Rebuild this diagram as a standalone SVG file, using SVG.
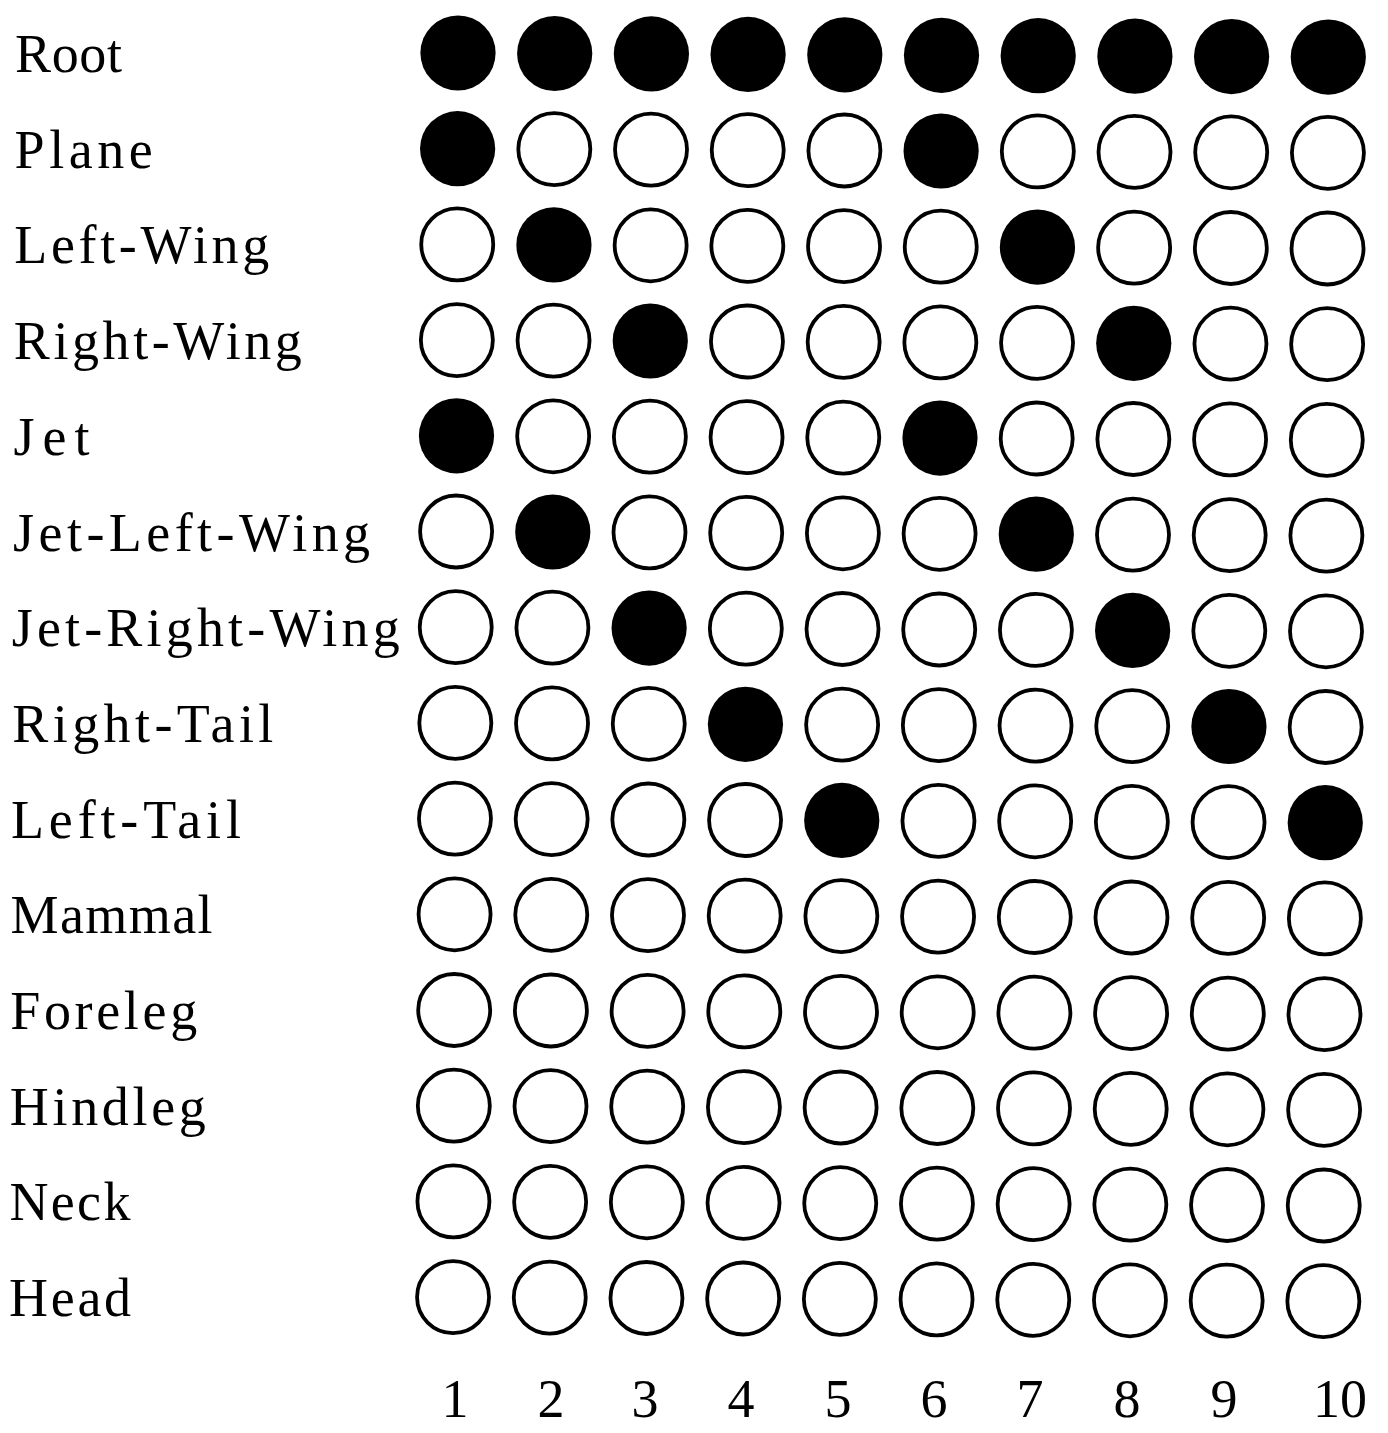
<svg xmlns="http://www.w3.org/2000/svg" width="1388" height="1433" viewBox="0 0 1388 1433">
<style>
.on{fill:#000}
.off{fill:#fff;stroke:#000;stroke-width:3.8}
.lbl{font-family:"Liberation Serif","Times New Roman",serif;font-size:54px;fill:#000}
.num{font-family:"Liberation Serif","Times New Roman",serif;font-size:54px;fill:#000;text-anchor:middle}
</style>
<defs>
<circle id="f" r="37.6" class="on"/>
<circle id="o" r="36" class="off"/>
</defs>
<rect width="1388" height="1433" fill="#fff"/>
<g id="connectors"/>
<g id="row-root" transform="translate(0,0)">
<text class="lbl" x="15" y="72" textLength="107" lengthAdjust="spacing">Root</text>
<use href="#f" x="458" y="53"/><use href="#f" x="554.7" y="53.5"/><use href="#f" x="651.4" y="53.9"/><use href="#f" x="748.1" y="54.4"/><use href="#f" x="844.8" y="54.8"/><use href="#f" x="941.5" y="55.3"/><use href="#f" x="1038.2" y="55.7"/><use href="#f" x="1134.9" y="56.2"/><use href="#f" x="1231.6" y="56.6"/><use href="#f" x="1328.3" y="57.1"/>
</g>
<g id="row-plane" transform="translate(-0.38,95.7)">
<text class="lbl" x="15" y="72" textLength="138" lengthAdjust="spacing">Plane</text>
<use href="#f" x="458" y="53"/><use href="#o" x="554.7" y="53.5"/><use href="#o" x="651.4" y="53.9"/><use href="#o" x="748.1" y="54.4"/><use href="#o" x="844.8" y="54.8"/><use href="#f" x="941.5" y="55.3"/><use href="#o" x="1038.2" y="55.7"/><use href="#o" x="1134.9" y="56.2"/><use href="#o" x="1231.6" y="56.6"/><use href="#o" x="1328.3" y="57.1"/>
</g>
<g id="row-left-wing" transform="translate(-0.76,191.4)">
<text class="lbl" x="15" y="72" textLength="255" lengthAdjust="spacing">Left-Wing</text>
<use href="#o" x="458" y="53"/><use href="#f" x="554.7" y="53.5"/><use href="#o" x="651.4" y="53.9"/><use href="#o" x="748.1" y="54.4"/><use href="#o" x="844.8" y="54.8"/><use href="#o" x="941.5" y="55.3"/><use href="#f" x="1038.2" y="55.7"/><use href="#o" x="1134.9" y="56.2"/><use href="#o" x="1231.6" y="56.6"/><use href="#o" x="1328.3" y="57.1"/>
</g>
<g id="row-right-wing" transform="translate(-1.14,287.1)">
<text class="lbl" x="15" y="72" textLength="288" lengthAdjust="spacing">Right-Wing</text>
<use href="#o" x="458" y="53"/><use href="#o" x="554.7" y="53.5"/><use href="#f" x="651.4" y="53.9"/><use href="#o" x="748.1" y="54.4"/><use href="#o" x="844.8" y="54.8"/><use href="#o" x="941.5" y="55.3"/><use href="#o" x="1038.2" y="55.7"/><use href="#f" x="1134.9" y="56.2"/><use href="#o" x="1231.6" y="56.6"/><use href="#o" x="1328.3" y="57.1"/>
</g>
<g id="row-jet" transform="translate(-1.52,382.8)">
<text class="lbl" x="15" y="72" textLength="76" lengthAdjust="spacing">Jet</text>
<use href="#f" x="458" y="53"/><use href="#o" x="554.7" y="53.5"/><use href="#o" x="651.4" y="53.9"/><use href="#o" x="748.1" y="54.4"/><use href="#o" x="844.8" y="54.8"/><use href="#f" x="941.5" y="55.3"/><use href="#o" x="1038.2" y="55.7"/><use href="#o" x="1134.9" y="56.2"/><use href="#o" x="1231.6" y="56.6"/><use href="#o" x="1328.3" y="57.1"/>
</g>
<g id="row-jet-left-wing" transform="translate(-1.9,478.5)">
<text class="lbl" x="15" y="72" textLength="357" lengthAdjust="spacing">Jet-Left-Wing</text>
<use href="#o" x="458" y="53"/><use href="#f" x="554.7" y="53.5"/><use href="#o" x="651.4" y="53.9"/><use href="#o" x="748.1" y="54.4"/><use href="#o" x="844.8" y="54.8"/><use href="#o" x="941.5" y="55.3"/><use href="#f" x="1038.2" y="55.7"/><use href="#o" x="1134.9" y="56.2"/><use href="#o" x="1231.6" y="56.6"/><use href="#o" x="1328.3" y="57.1"/>
</g>
<g id="row-jet-right-wing" transform="translate(-2.28,574.2)">
<text class="lbl" x="14" y="72" textLength="388" lengthAdjust="spacing">Jet-Right-Wing</text>
<use href="#o" x="458" y="53"/><use href="#o" x="554.7" y="53.5"/><use href="#f" x="651.4" y="53.9"/><use href="#o" x="748.1" y="54.4"/><use href="#o" x="844.8" y="54.8"/><use href="#o" x="941.5" y="55.3"/><use href="#o" x="1038.2" y="55.7"/><use href="#f" x="1134.9" y="56.2"/><use href="#o" x="1231.6" y="56.6"/><use href="#o" x="1328.3" y="57.1"/>
</g>
<g id="row-right-tail" transform="translate(-2.66,669.9)">
<text class="lbl" x="15" y="72" textLength="261" lengthAdjust="spacing">Right-Tail</text>
<use href="#o" x="458" y="53"/><use href="#o" x="554.7" y="53.5"/><use href="#o" x="651.4" y="53.9"/><use href="#f" x="748.1" y="54.4"/><use href="#o" x="844.8" y="54.8"/><use href="#o" x="941.5" y="55.3"/><use href="#o" x="1038.2" y="55.7"/><use href="#o" x="1134.9" y="56.2"/><use href="#f" x="1231.6" y="56.6"/><use href="#o" x="1328.3" y="57.1"/>
</g>
<g id="row-left-tail" transform="translate(-3.04,765.6)">
<text class="lbl" x="14" y="72" textLength="230" lengthAdjust="spacing">Left-Tail</text>
<use href="#o" x="458" y="53"/><use href="#o" x="554.7" y="53.5"/><use href="#o" x="651.4" y="53.9"/><use href="#o" x="748.1" y="54.4"/><use href="#f" x="844.8" y="54.8"/><use href="#o" x="941.5" y="55.3"/><use href="#o" x="1038.2" y="55.7"/><use href="#o" x="1134.9" y="56.2"/><use href="#o" x="1231.6" y="56.6"/><use href="#f" x="1328.3" y="57.1"/>
</g>
<g id="row-mammal" transform="translate(-3.42,861.3)">
<text class="lbl" x="14" y="72" textLength="202" lengthAdjust="spacing">Mammal</text>
<use href="#o" x="458" y="53"/><use href="#o" x="554.7" y="53.5"/><use href="#o" x="651.4" y="53.9"/><use href="#o" x="748.1" y="54.4"/><use href="#o" x="844.8" y="54.8"/><use href="#o" x="941.5" y="55.3"/><use href="#o" x="1038.2" y="55.7"/><use href="#o" x="1134.9" y="56.2"/><use href="#o" x="1231.6" y="56.6"/><use href="#o" x="1328.3" y="57.1"/>
</g>
<g id="row-foreleg" transform="translate(-3.8,957)">
<text class="lbl" x="14" y="72" textLength="187" lengthAdjust="spacing">Foreleg</text>
<use href="#o" x="458" y="53"/><use href="#o" x="554.7" y="53.5"/><use href="#o" x="651.4" y="53.9"/><use href="#o" x="748.1" y="54.4"/><use href="#o" x="844.8" y="54.8"/><use href="#o" x="941.5" y="55.3"/><use href="#o" x="1038.2" y="55.7"/><use href="#o" x="1134.9" y="56.2"/><use href="#o" x="1231.6" y="56.6"/><use href="#o" x="1328.3" y="57.1"/>
</g>
<g id="row-hindleg" transform="translate(-4.18,1052.7)">
<text class="lbl" x="14" y="72" textLength="196" lengthAdjust="spacing">Hindleg</text>
<use href="#o" x="458" y="53"/><use href="#o" x="554.7" y="53.5"/><use href="#o" x="651.4" y="53.9"/><use href="#o" x="748.1" y="54.4"/><use href="#o" x="844.8" y="54.8"/><use href="#o" x="941.5" y="55.3"/><use href="#o" x="1038.2" y="55.7"/><use href="#o" x="1134.9" y="56.2"/><use href="#o" x="1231.6" y="56.6"/><use href="#o" x="1328.3" y="57.1"/>
</g>
<g id="row-neck" transform="translate(-4.56,1148.4)">
<text class="lbl" x="14" y="72" textLength="121" lengthAdjust="spacing">Neck</text>
<use href="#o" x="458" y="53"/><use href="#o" x="554.7" y="53.5"/><use href="#o" x="651.4" y="53.9"/><use href="#o" x="748.1" y="54.4"/><use href="#o" x="844.8" y="54.8"/><use href="#o" x="941.5" y="55.3"/><use href="#o" x="1038.2" y="55.7"/><use href="#o" x="1134.9" y="56.2"/><use href="#o" x="1231.6" y="56.6"/><use href="#o" x="1328.3" y="57.1"/>
</g>
<g id="row-head" transform="translate(-4.94,1244.1)">
<text class="lbl" x="14" y="72" textLength="122" lengthAdjust="spacing">Head</text>
<use href="#o" x="458" y="53"/><use href="#o" x="554.7" y="53.5"/><use href="#o" x="651.4" y="53.9"/><use href="#o" x="748.1" y="54.4"/><use href="#o" x="844.8" y="54.8"/><use href="#o" x="941.5" y="55.3"/><use href="#o" x="1038.2" y="55.7"/><use href="#o" x="1134.9" y="56.2"/><use href="#o" x="1231.6" y="56.6"/><use href="#o" x="1328.3" y="57.1"/>
</g>
<g id="column-numbers">
<text class="num" x="455" y="1417">1</text>
<text class="num" x="551" y="1417">2</text>
<text class="num" x="645" y="1417">3</text>
<text class="num" x="741" y="1417">4</text>
<text class="num" x="838" y="1417">5</text>
<text class="num" x="934" y="1417">6</text>
<text class="num" x="1030" y="1417">7</text>
<text class="num" x="1127" y="1417">8</text>
<text class="num" x="1224" y="1417">9</text>
<text class="num" x="1313" y="1417" style="text-anchor:start" textLength="54" lengthAdjust="spacing">10</text>
</g>
</svg>
